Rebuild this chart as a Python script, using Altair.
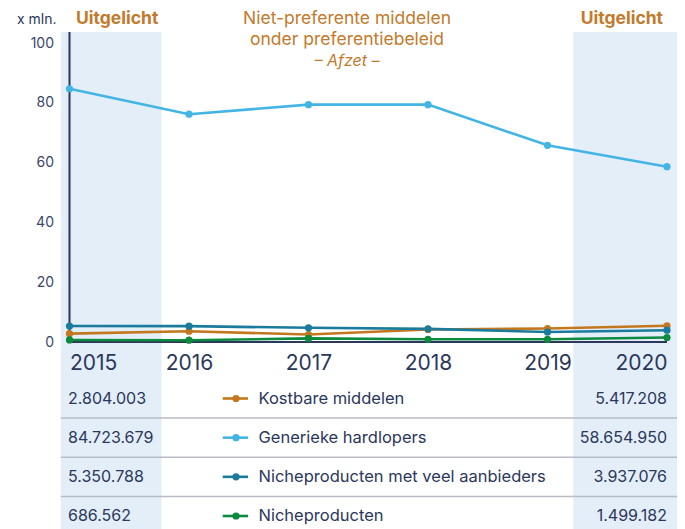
import altair as alt
import pandas as pd

# ---------------- data ----------------
years = [2015, 2016, 2017, 2018, 2019, 2020]
series_names = [
    "Kostbare middelen",
    "Generieke hardlopers",
    "Nicheproducten met veel aanbieders",
    "Nicheproducten",
]
kostbare = [2.80, 3.6, 2.5, 4.2, 4.5, 5.42]
generieke = [84.72, 76.2, 79.4, 79.4, 65.8, 58.65]
niche_veel = [5.35, 5.3, 4.75, 4.4, 3.35, 3.94]
niche = [0.69, 0.6, 1.2, 0.9, 0.9, 1.50]
series_colors = ["#c3781f", "#42b5e5", "#1a7b9d", "#0c8a3d"]

first_year_labels = ["2.804.003", "84.723.679", "5.350.788", "686.562"]
last_year_labels = ["5.417.208", "58.654.950", "3.937.076", "1.499.182"]
table_rows = [1, 2, 3, 4]
separator_rows = [1.5, 2.5, 3.5]

highlight_start = [2014.927, 2019.216]
highlight_end = [2015.77, 2020.15]
highlight_text = ["Uitgelicht", "Uitgelicht"]

y_ticks = [0, 20, 40, 60, 80, 100]
y_top = 103.7
title_lines = ["Niet-preferente middelen", "onder preferentiebeleid"]
subtitle_text = "– Afzet –"
unit_text = "x mln."

# ---------------- styling ----------------
FONT = "Inter"
NAVY = "#2b375c"
ORANGE = "#c27a2c"
BAND = "#e3eef9"
SEP = "#b8bcc4"

# ---------------- tables ----------------
values_by_series = [kostbare, generieke, niche_veel, niche]
long_rows = []
for name, vals in zip(series_names, values_by_series):
    for yr, v in zip(years, vals):
        long_rows.append({"year": yr, "series": name, "value": v})
df = pd.DataFrame(long_rows)

table_df = pd.DataFrame({
    "row": table_rows,
    "series": series_names,
    "first": first_year_labels,
    "last": last_year_labels,
    "year_first": [years[0]] * 4,
    "year_last": [years[-1]] * 4,
})
sep_df = pd.DataFrame({
    "row": separator_rows,
    "x1": [highlight_start[0]] * 3,
    "x2": [highlight_end[-1]] * 3,
})
band_df = pd.DataFrame({"x1": highlight_start, "x2": highlight_end})
axis_df = pd.DataFrame({
    "x1": [years[0], years[0]],
    "x2": [years[0], years[-1]],
    "y1": [0, 0],
    "y2": [y_top, 0],
})
hl_left = pd.DataFrame({"year": [years[0]], "t": [highlight_text[0]]})
hl_right = pd.DataFrame({"year": [years[-1]], "t": [highlight_text[1]]})
one = pd.DataFrame({"k": [0]})

# ---------------- scales / axes ----------------
x_scale = alt.Scale(domain=[years[0], years[-1]], nice=False, zero=False)
y_scale = alt.Scale(domain=[0, y_top], nice=False, zero=True)
row_scale = alt.Scale(domain=[1, 4], range=[366.5, 484])
color_scale = alt.Scale(domain=series_names, range=series_colors)

x_axis = alt.Axis(
    values=years, format="d", labelFlush=True, labelFontSize=21,
    labelColor=NAVY, labelPadding=10, domain=False, ticks=False,
    grid=False, title=None, labelFont=FONT, zindex=1,
)
y_axis = alt.Axis(
    values=y_ticks, domain=False, ticks=False, grid=False,
    labelPadding=16, labelFontSize=14, labelColor="#3a4668", labelFont=FONT,
    title=unit_text, titleAngle=0, titleAlign="right", titleBaseline="middle",
    titleX=-13.5, titleY=-13, titleFontSize=14, titleFontWeight="normal",
    titleColor=NAVY, titleFont=FONT, zindex=1,
)

# ---------------- layers ----------------
bands = alt.Chart(band_df).mark_rect(color=BAND).encode(
    x=alt.X("x1:Q", scale=x_scale, axis=x_axis),
    x2="x2:Q",
    y=alt.value(0),
    y2=alt.value(497),
)

axis_lines = alt.Chart(axis_df).mark_rule(color=NAVY, strokeWidth=2).encode(
    x=alt.X("x1:Q", scale=x_scale, axis=x_axis),
    x2="x2:Q",
    y=alt.Y("y1:Q", scale=y_scale, axis=None),
    y2="y2:Q",
)

separators = alt.Chart(sep_df).mark_rule(color=SEP, strokeWidth=1.5).encode(
    x=alt.X("x1:Q", scale=x_scale, axis=x_axis),
    x2="x2:Q",
    y=alt.Y("row:Q", scale=row_scale, axis=None),
)

lines = alt.Chart(df).mark_line(strokeWidth=2.6).encode(
    x=alt.X("year:Q", scale=x_scale, axis=x_axis),
    y=alt.Y("value:Q", scale=y_scale, axis=y_axis),
    color=alt.Color("series:N", scale=color_scale, legend=None),
    detail="series:N",
)

points = alt.Chart(df).mark_circle(size=52, opacity=1).encode(
    x=alt.X("year:Q", scale=x_scale, axis=x_axis),
    y=alt.Y("value:Q", scale=y_scale, axis=None),
    color=alt.Color("series:N", scale=color_scale, legend=None),
)

first_vals = alt.Chart(table_df).mark_text(
    align="left", baseline="middle", fontSize=16, font=FONT, color=NAVY, dx=-1.5
).encode(
    x=alt.X("year_first:Q", scale=x_scale, axis=x_axis),
    y=alt.Y("row:Q", scale=row_scale, axis=None),
    text="first:N",
)

last_vals = alt.Chart(table_df).mark_text(
    align="right", baseline="middle", fontSize=16, font=FONT, color=NAVY
).encode(
    x=alt.X("year_last:Q", scale=x_scale, axis=x_axis),
    y=alt.Y("row:Q", scale=row_scale, axis=None),
    text="last:N",
)

legend_line = alt.Chart(table_df).mark_rule(strokeWidth=2.6).encode(
    x=alt.value(153.2),
    x2=alt.value(178.5),
    y=alt.Y("row:Q", scale=row_scale, axis=None),
    color=alt.Color("series:N", scale=color_scale, legend=None),
)
legend_dot = alt.Chart(table_df).mark_circle(size=52, opacity=1).encode(
    x=alt.value(166.5),
    y=alt.Y("row:Q", scale=row_scale, axis=None),
    color=alt.Color("series:N", scale=color_scale, legend=None),
)
legend_text = alt.Chart(table_df).mark_text(
    align="left", baseline="middle", fontSize=16.5, font=FONT, color=NAVY
).encode(
    x=alt.value(189),
    y=alt.Y("row:Q", scale=row_scale, axis=None),
    text="series:N",
)

hl_l = alt.Chart(hl_left).mark_text(
    align="left", baseline="middle", fontSize=17.5, fontWeight="bold",
    font=FONT, color=ORANGE, dx=6.5
).encode(
    x=alt.X("year:Q", scale=x_scale, axis=x_axis),
    y=alt.value(-13),
    text="t:N",
)
hl_r = alt.Chart(hl_right).mark_text(
    align="right", baseline="middle", fontSize=17.5, fontWeight="bold",
    font=FONT, color=ORANGE, dx=-4
).encode(
    x=alt.X("year:Q", scale=x_scale, axis=x_axis),
    y=alt.value(-13),
    text="t:N",
)

title_mark = alt.Chart(one).mark_text(
    text=title_lines, align="center", baseline="alphabetic", fontSize=17.5,
    lineHeight=21, font=FONT, color=ORANGE
).encode(x=alt.value(277.5), y=alt.value(-7.8))

subtitle_mark = alt.Chart(one).mark_text(
    text=subtitle_text, align="center", baseline="alphabetic", fontSize=16,
    fontStyle="italic", font=FONT, color=ORANGE
).encode(x=alt.value(277.5), y=alt.value(33.5))

chart = alt.layer(
    bands, separators, axis_lines, lines, points,
    first_vals, last_vals, legend_line, legend_dot, legend_text,
    hl_l, hl_r, title_mark, subtitle_mark,
).resolve_scale(
    y="independent"
).properties(
    width=597.5,
    height=310,
    padding={"left": 61.5, "top": 24, "right": 10, "bottom": 187},
    autosize=alt.AutoSizeParams(type="none"),
    background="white",
).configure_view(stroke=None)

chart.save("out.html", embed_options={"renderer": "svg", "actions": False})
